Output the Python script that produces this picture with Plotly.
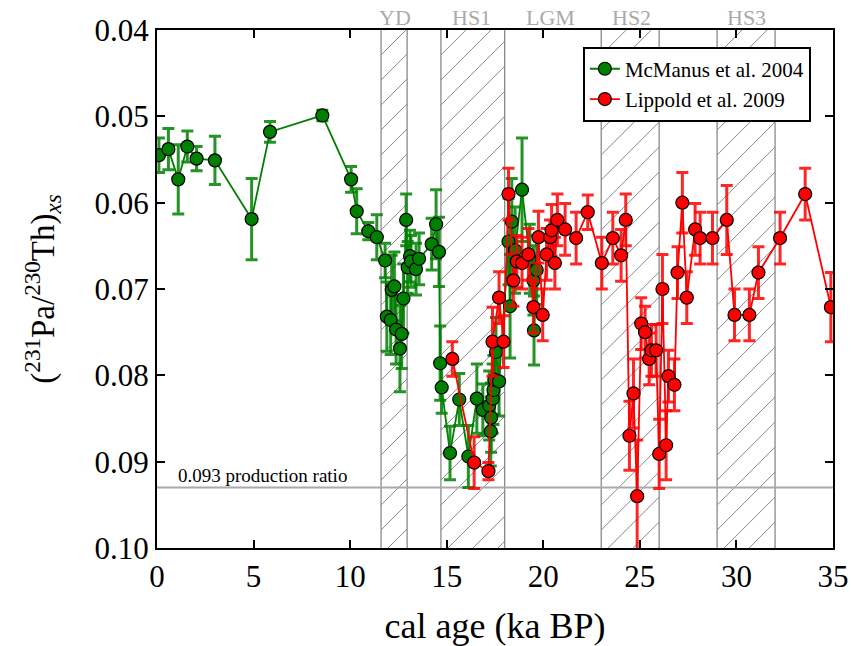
import plotly.graph_objects as go

# McManus et al. 2004 (age ka BP, ratio, error)
mc_age = [0.1, 0.59, 1.1, 1.57, 2.05, 3.0, 4.9, 5.85, 8.56, 10.05, 10.34, 10.94, 11.38, 11.81,
          11.9, 12.1, 12.15, 12.29, 12.38, 12.58, 12.67, 12.76, 12.9, 12.98, 13.1, 13.15, 13.41,
          13.57, 14.22, 14.45, 14.6, 14.66, 14.74, 15.17, 15.65, 16.12, 16.56, 16.87, 17.2, 17.28,
          17.3, 17.38, 17.42, 17.47, 17.55, 17.71, 18.2, 18.28, 18.37, 18.54, 18.9, 19.3, 19.49,
          19.52, 19.66]
mc_val = [0.0545, 0.0538, 0.0573, 0.0535, 0.0549, 0.0551, 0.0619, 0.0518, 0.0499, 0.0573, 0.0610,
          0.0633, 0.0640, 0.0667, 0.0732, 0.0736, 0.0701, 0.0697, 0.0747, 0.0769, 0.0752, 0.0711,
          0.0620, 0.0675, 0.0662, 0.0668, 0.0677, 0.0665, 0.0648, 0.0625, 0.0657, 0.0786, 0.0814,
          0.0890, 0.0828, 0.0894, 0.0827, 0.0840, 0.0835, 0.0865, 0.0849, 0.0827, 0.0817, 0.0805,
          0.0773, 0.0807, 0.0645, 0.0720, 0.0622, 0.0655, 0.0585, 0.0665, 0.0690, 0.0748, 0.0678]
mc_err = [0.0020, 0.0024, 0.0040, 0.0018, 0.0014, 0.0028, 0.0047, 0.0012, 0.0006, 0.0015, 0.0026,
          0.0010, 0.0026, 0.0020, 0.0040, 0.0040, 0.0040, 0.0040, 0.0040, 0.0050, 0.0040, 0.0040,
          0.0030, 0.0030, 0.0030, 0.0030, 0.0030, 0.0030, 0.0030, 0.0040, 0.0040, 0.0043, 0.0030,
          0.0031, 0.0030, 0.0036, 0.0040, 0.0030, 0.0040, 0.0040, 0.0040, 0.0040, 0.0040, 0.0040,
          0.0040, 0.0040, 0.0050, 0.0060, 0.0050, 0.0050, 0.0060, 0.0040, 0.0040, 0.0040, 0.0040]

# Lippold et al. 2009
lp_age = [15.29, 16.42, 17.16, 17.37, 17.71, 17.94, 18.2, 18.45, 18.63, 18.9, 19.23, 19.49, 19.75,
          19.97, 20.17, 20.35, 20.43, 20.6, 20.73, 21.13, 21.7, 22.3, 23.03, 23.6, 24.03, 24.27,
          24.46, 24.67, 24.86, 25.07, 25.27, 25.48, 25.6, 25.84, 26.0, 26.17, 26.36, 26.48, 26.79,
          26.95, 27.2, 27.43, 27.86, 28.12, 28.76, 29.5, 29.9, 30.67, 31.14, 32.26, 33.56, 34.89]
lp_val = [0.0781, 0.0901, 0.0911, 0.0761, 0.0710, 0.0761, 0.0590, 0.0690, 0.0668, 0.0670, 0.0660,
          0.0721, 0.0640, 0.0730, 0.0660, 0.0640, 0.0632, 0.0670, 0.0620, 0.0631, 0.0641, 0.0611,
          0.0670, 0.0641, 0.0661, 0.0620, 0.0870, 0.0821, 0.0940, 0.0740, 0.0750, 0.0781, 0.0771,
          0.0771, 0.0891, 0.0700, 0.0881, 0.0801, 0.0811, 0.0681, 0.0600, 0.0710, 0.0631, 0.0641,
          0.0641, 0.0620, 0.0730, 0.0730, 0.0681, 0.0641, 0.0590, 0.0721]
lp_err = [0.0020, 0.0030, 0.0010, 0.0040, 0.0030, 0.0030, 0.0030, 0.0030, 0.0030, 0.0030, 0.0030,
          0.0030, 0.0030, 0.0030, 0.0030, 0.0020, 0.0030, 0.0030, 0.0030, 0.0030, 0.0030, 0.0020,
          0.0030, 0.0030, 0.0030, 0.0030, 0.0040, 0.0040, 0.0065, 0.0030, 0.0030, 0.0030, 0.0030,
          0.0030, 0.0040, 0.0040, 0.0040, 0.0030, 0.0030, 0.0030, 0.0035, 0.0030, 0.0030, 0.0030,
          0.0030, 0.0040, 0.0030, 0.0030, 0.0030, 0.0030, 0.0030, 0.0040]

# climate events
band_names = ["YD", "HS1", "HS2", "HS3"]
band_start = [11.6, 14.7, 23.0, 29.0]
band_end = [12.95, 18.0, 26.0, 32.0]
label_names = ["YD", "HS1", "LGM", "HS2", "HS3"]
label_pos = [12.3, 16.3, 20.35, 24.55, 30.5]

production_ratio = 0.093
x_min, x_max = 0, 35
y_min, y_max = 0.04, 0.10
x_ticks = [0, 5, 10, 15, 20, 25, 30, 35]
y_ticks = [0.04, 0.05, 0.06, 0.07, 0.08, 0.09, 0.10]

FONT = "Liberation Serif, Times New Roman, Times, serif"
W, H = 851, 646
M = dict(l=157, r=18, t=30, b=98)
plot_w = W - M["l"] - M["r"]
plot_h = H - M["t"] - M["b"]
# hatch geometry (45 degrees on screen, 25 px apart)
k = ((y_max - y_min) / plot_h) / ((x_max - x_min) / plot_w)
span = (y_max - y_min) / k
step = 25 * (x_max - x_min) / plot_w

fig = go.Figure()

for s, e in zip(band_start, band_end):
    hx, hy = [], []
    x0 = s - span
    while x0 < e:
        a, b = max(s, x0), min(e, x0 + span)
        if b > a:
            hx += [a, b, None]
            hy += [y_max - k * (a - x0), y_max - k * (b - x0), None]
        x0 += step
    fig.add_trace(go.Scatter(x=hx, y=hy, mode="lines", line=dict(color="#8a8a8a", width=1),
                             showlegend=False, hoverinfo="skip"))
    fig.add_trace(go.Scatter(x=[s, s, None, e, e], y=[y_min, y_max, None, y_min, y_max],
                             mode="lines", line=dict(color="#8a8a8a", width=1.3),
                             showlegend=False, hoverinfo="skip"))

fig.add_trace(go.Scatter(x=[x_min, x_max], y=[production_ratio, production_ratio], mode="lines",
                         line=dict(color="#aaaaaa", width=2), showlegend=False, hoverinfo="skip"))

fig.add_trace(go.Scatter(
    x=mc_age, y=mc_val, mode="lines+markers", name="McManus et al. 2004",
    line=dict(color="#008000", width=1.8),
    marker=dict(color="#008000", size=13, line=dict(color="black", width=1.2)),
    error_y=dict(type="data", array=mc_err, visible=True, color="rgba(0,128,0,0.85)",
                 thickness=3, width=6)))

fig.add_trace(go.Scatter(
    x=lp_age, y=lp_val, mode="lines+markers", name="Lippold et al. 2009",
    line=dict(color="#ff0000", width=1.8),
    marker=dict(color="#ff0000", size=13, line=dict(color="black", width=1.2)),
    error_y=dict(type="data", array=lp_err, visible=True, color="rgba(255,0,0,0.85)",
                 thickness=3, width=6)))

for name, pos in zip(label_names, label_pos):
    fig.add_annotation(x=pos, y=1, xref="x", yref="paper", text=name, showarrow=False,
                       yanchor="bottom", yshift=-2, font=dict(family=FONT, size=22, color="#aaaaaa"))

fig.add_annotation(x=1.0, y=production_ratio, xref="x", yref="y",
                   text="0.093 production ratio", showarrow=False,
                   xanchor="left", yanchor="bottom", yshift=0,
                   font=dict(family=FONT, size=19, color="black"))

fig.update_layout(
    width=W, height=H, margin=M,
    plot_bgcolor="white", paper_bgcolor="white",
    legend=dict(x=0.63, y=0.968, xanchor="left", yanchor="top",
                bordercolor="black", borderwidth=2, bgcolor="white",
                font=dict(family=FONT, size=21, color="black")),
)
fig.update_xaxes(range=[x_min, x_max], tickvals=x_ticks, ticks="inside", ticklen=8, tickwidth=1.5,
                 tickcolor="black", showline=True, linecolor="black", linewidth=2, mirror="ticks",
                 showgrid=False, zeroline=False, automargin=False,
                 tickfont=dict(family=FONT, size=31, color="black"),
                 title=dict(text="cal age (ka BP)", standoff=20,
                            font=dict(family=FONT, size=36, color="black")))
fig.update_yaxes(range=[y_max, y_min], tickvals=y_ticks, tickformat=".2f", ticks="inside",
                 ticklen=8, tickwidth=1.5, tickcolor="black", showline=True, linecolor="black",
                 linewidth=2, mirror="ticks", showgrid=False, zeroline=False, automargin=False,
                 tickfont=dict(family=FONT, size=31, color="black"),
                 title=dict(text="(<sup>231</sup>Pa/<sup>230</sup>Th)<sub><i>xs</i></sub>",
                            standoff=30, font=dict(family=FONT, size=33, color="black")))

fig.write_html("out.html")
